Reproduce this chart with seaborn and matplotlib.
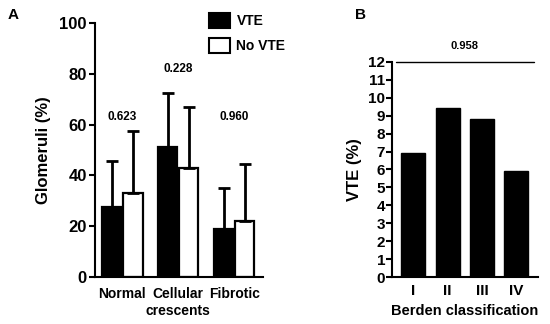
import matplotlib
matplotlib.use("Agg")
import matplotlib.pyplot as plt
import seaborn as sns
import pandas as pd
from matplotlib.patches import Patch

sns.set_theme(style="ticks")
plt.rcParams['font.family'] = ['Liberation Sans', 'DejaVu Sans']
plt.rcParams['font.weight'] = 'bold'
plt.rcParams['text.color'] = 'black'
plt.rcParams['axes.labelcolor'] = 'black'
plt.rcParams['xtick.color'] = 'black'
plt.rcParams['ytick.color'] = 'black'

# Panel A data
categories = ["Normal", "Cellular\ncrescents", "Fibrotic"]
groups = ["VTE", "No VTE"]
vte_mean = [27.5, 51.0, 19.0]
vte_sd = [18.0, 21.5, 16.0]
novte_mean = [33.0, 43.0, 22.0]
novte_sd = [24.5, 24.0, 22.5]
p_values_a = ["0.623", "0.228", "0.960"]
p_y_a = [63, 82, 63]

# Panel B data
berden = ["I", "II", "III", "IV"]
vte_pct = [6.9, 9.4, 8.8, 5.9]
p_value_b = "0.958"

df_a = pd.DataFrame({
    "cat": categories * 2,
    "group": [groups[0]] * 3 + [groups[1]] * 3,
    "val": vte_mean + novte_mean,
})
df_b = pd.DataFrame({"cls": berden, "val": vte_pct})

fig = plt.figure(figsize=(5.5, 3.24), dpi=100)
axA = fig.add_axes([0.1727, 0.145, 0.305, 0.784])
axB = fig.add_axes([0.7127, 0.145, 0.265, 0.664])

sns.barplot(data=df_a, x="cat", y="val", hue="group", order=categories,
            hue_order=groups, palette={"VTE": "black", "No VTE": "white"},
            edgecolor="black", linewidth=1.6, width=0.75, gap=0.08,
            errorbar=None, legend=False, ax=axA)

# upper-only error bars
bw = 0.75 / 2
for i in range(len(categories)):
    for j, (m, s) in enumerate([(vte_mean[i], vte_sd[i]), (novte_mean[i], novte_sd[i])]):
        x = i - bw / 2 + j * bw
        axA.errorbar(x, m, yerr=[[0], [s]], fmt="none", ecolor="black",
                     elinewidth=2, capsize=4, capthick=2, zorder=1)

for i, (p, y) in enumerate(zip(p_values_a, p_y_a)):
    axA.text(i, y, p, ha="center", va="center", fontsize=8.5, fontweight="bold")

axA.set_ylim(0, 100)
axA.set_xlim(-0.49, 2.51)
axA.set_yticks([0, 20, 40, 60, 80, 100])
axA.set_xlabel("")
axA.set_ylabel("Glomeruli (%)", fontsize=12, fontweight="bold", labelpad=6)
axA.tick_params(axis="y", labelsize=12, width=1.5, length=4, pad=2)
axA.tick_params(axis="x", labelsize=10, length=0, pad=7)
for t in axA.get_xticklabels() + axA.get_yticklabels():
    t.set_fontweight("bold")
for t in axA.get_xticklabels():
    t.set_linespacing(1.3)
sns.despine(ax=axA)
for sp in ["left", "bottom"]:
    axA.spines[sp].set_linewidth(1.5)
    axA.spines[sp].set_color("black")

handles = [Patch(facecolor="black", edgecolor="black", linewidth=1.5),
           Patch(facecolor="white", edgecolor="black", linewidth=1.5)]
fig.legend(handles, groups, loc="upper left", bbox_to_anchor=(0.358, 1.0),
           frameon=False, prop={"weight": "bold", "size": 10},
           handlelength=1.45, handleheight=1.3, handletextpad=0.5,
           labelspacing=0.75)

# Panel B
sns.barplot(data=df_b, x="cls", y="val", order=berden, color="black",
            edgecolor="black", width=0.7, errorbar=None, ax=axB)
axB.set_ylim(0, 12)
axB.set_xlim(-0.62, 3.62)
axB.set_yticks(range(0, 13))
axB.set_xlabel("Berden classification", fontsize=10.5, fontweight="bold", labelpad=4)
axB.set_ylabel("VTE (%)", fontsize=12, fontweight="bold", labelpad=4)
axB.tick_params(axis="y", labelsize=11, width=1.5, length=4, pad=1)
axB.tick_params(axis="x", labelsize=11, length=0, pad=5)
for t in axB.get_xticklabels() + axB.get_yticklabels():
    t.set_fontweight("bold")
sns.despine(ax=axB)
for sp in ["left", "bottom"]:
    axB.spines[sp].set_linewidth(1.5)
    axB.spines[sp].set_color("black")
axB.plot([-0.5, 3.5], [12, 12], color="black", lw=1, clip_on=False)
axB.text(1.5, 12.9, p_value_b, ha="center", va="center", fontsize=8,
         fontweight="bold")

fig.text(0.013, 0.955, "A", fontsize=11, fontweight="bold", va="center")
fig.text(0.645, 0.955, "B", fontsize=11, fontweight="bold", va="center")

fig.savefig("out.png", dpi=100)
